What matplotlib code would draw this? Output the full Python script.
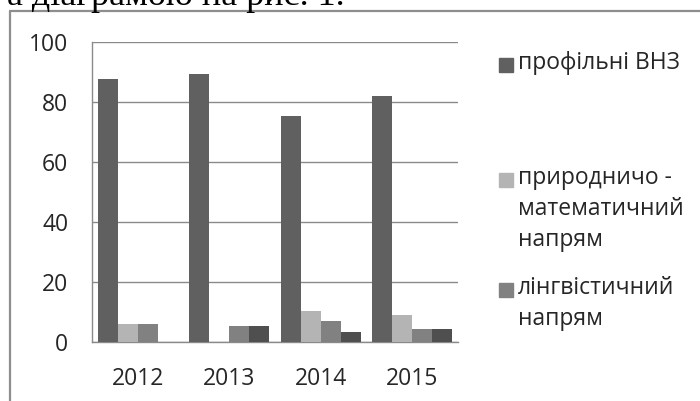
"""
Bar chart: профільні ВНЗ vs напрями, 2012-2015
"""

# Imports
import matplotlib
matplotlib.use("Agg")
import numpy as np
import matplotlib.pyplot as plt
from matplotlib.lines import Line2D
from matplotlib.patches import Rectangle

# Data
years = ["2012", "2013", "2014", "2015"]
profile_vuz = [87.5, 89.3, 75.2, 82.0]
nat_math = [6.0, 0.0, 10.4, 9.0]
lingvo = [6.0, 5.2, 7.0, 4.3]
other = [0.0, 5.2, 3.5, 4.3]

series = [profile_vuz, nat_math, lingvo, other]
colors = ["#606060", "#b4b4b4", "#818181", "#4f4f4f"]
legend_labels = ["профільні ВНЗ", "природничо -\nматематичний\nнапрям", "лінгвістичний\nнапрям"]
yticks = [0, 20, 40, 60, 80, 100]

# Main Vars
W, H = 700, 401
FONT = ["Open Sans", "DejaVu Sans"]
TXT = "#262626"
GRID = "#8a8a8a"

fig = plt.figure(figsize=(W / 100, H / 100), dpi=100)
fig.patch.set_facecolor("white")

# page text cut off at the top
fig.text(345 / W, 1 - 5 / H, "а діаграмою на рис. 1.", ha="right", va="baseline",
         fontsize=26, family="Liberation Serif", color="black")

# frame around the chart
frame = dict(color="#8e8e8e", lw=1.6, transform=fig.transFigure, solid_capstyle="butt")
fig.add_artist(Line2D([10 / W, 10 / W], [0, 1 - 11 / H], **frame))
fig.add_artist(Line2D([10 / W - 0.001, 1], [1 - 11 / H, 1 - 11 / H], **frame))

# Plot area
ax = fig.add_axes([92 / W, 1 - 342 / H, 366 / W, 300 / H])
x = np.arange(len(years))
bw = 0.219
offsets = (np.arange(len(series)) - 1.5) * bw
for vals, col, off in zip(series, colors, offsets):
    ax.bar(x + off, vals, width=bw, color=col, zorder=3)

ax.set_xlim(-0.5, len(years) - 0.5)
ax.set_ylim(0, 100)
ax.set_yticks(yticks)
ax.set_xticks(x)
ax.set_xticklabels(years)
ax.yaxis.grid(True, color=GRID, lw=1.0, zorder=0)
for s in ["top", "right"]:
    ax.spines[s].set_visible(False)
for s in ["left", "bottom"]:
    ax.spines[s].set_color(GRID)
    ax.spines[s].set_linewidth(1.0)
ax.tick_params(axis="both", length=0, labelsize=16.5, colors=TXT)
ax.tick_params(axis="y", pad=17)
ax.tick_params(axis="x", pad=18)
for lab in ax.get_xticklabels() + ax.get_yticklabels():
    lab.set_family(FONT)

# Legend (drawn by hand, Excel-style spacing; 4th entry is cut off in the source)
leg_y = [65, 180, 290]
for lab, col, yy in zip(legend_labels, colors, leg_y):
    fig.add_artist(Rectangle((499 / W, 1 - (yy + 7) / H), 14 / W, 14 / H,
                             transform=fig.transFigure, color=col))
    fig.text(518 / W, 1 - (yy - 14) / H, lab, ha="left", va="top", fontsize=16.5,
             family=FONT, color=TXT, linespacing=1.38)

fig.savefig("out.png", dpi=100)
